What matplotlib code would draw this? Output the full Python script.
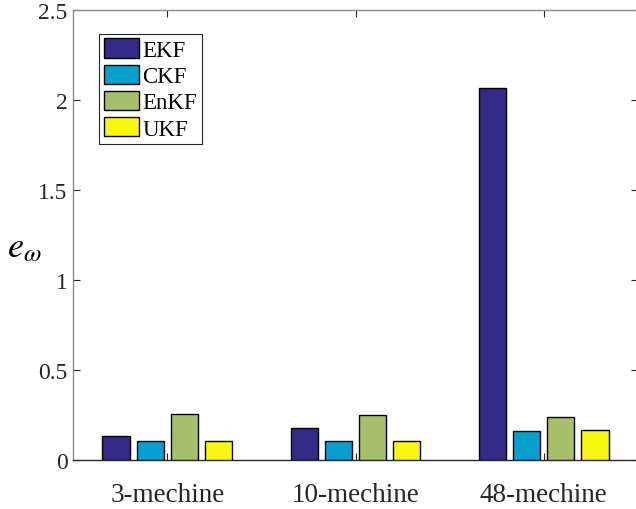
import matplotlib
matplotlib.use("Agg")
import matplotlib.pyplot as plt
import numpy as np

categories = ["3-mechine", "10-mechine", "48-mechine"]
series = ["EKF", "CKF", "EnKF", "UKF"]
EKF = [0.133, 0.180, 2.065]
CKF = [0.106, 0.107, 0.163]
EnKF = [0.254, 0.250, 0.239]
UKF = [0.104, 0.107, 0.167]
colors = ["#352A87", "#05A0D0", "#A6BF6A", "#F8F80D"]
yticks = [0, 0.5, 1, 1.5, 2, 2.5]
ytick_labels = ["0", "0.5", "1", "1.5", "2", "2.5"]

plt.rcParams['font.family'] = ['Liberation Serif', 'DejaVu Serif']
plt.rcParams['mathtext.fontset'] = 'stix'

fig = plt.figure(figsize=(6.36, 5.10), dpi=100)
ax = fig.add_axes([73.3/636, 49/510, (637.7-73.3)/636, (461-11)/510])

x = np.arange(1, len(categories) + 1)
groupwidth = 0.727
pitch = groupwidth / 4
width = pitch * 0.8
data = [EKF, CKF, EnKF, UKF]
for i, (name, vals, c) in enumerate(zip(series, data, colors)):
    offs = (i - 1.5) * pitch
    ax.bar(x + offs, vals, width, color=c, edgecolor='black', linewidth=1.0, label=name, zorder=3)

ax.set_xlim(0.5, 3.5)
ax.set_ylim(0, 2.5)
ax.set_xticks(x)
ax.set_xticklabels(categories, fontsize=19.5)
ax.set_yticks(yticks)
ax.set_yticklabels(ytick_labels, fontsize=17)
ax.tick_params(axis='both', direction='in', length=5, width=0.8, colors='#262626',
               top=True, right=True, labelcolor='#262626')
ax.tick_params(axis='x', pad=16)
ax.tick_params(axis='y', pad=4)
for s in ['left', 'top', 'right']:
    ax.spines[s].set_color('#8a8a8a')
ax.spines['bottom'].set_color('#262626')
for s in ax.spines.values():
    s.set_linewidth(1.0)

ax.set_ylabel(r'$e_{\omega}$', fontsize=26, rotation=0, labelpad=0)
ax.yaxis.set_label_coords(-0.087, 0.435)

leg = ax.legend(loc='upper left', bbox_to_anchor=(0.0455, 0.947), fontsize=16.5,
                frameon=True, fancybox=False, edgecolor='#262626', framealpha=1,
                handlelength=1.55, handleheight=0.92, handletextpad=0.15,
                labelspacing=0.16, borderpad=0.2, borderaxespad=0)
leg.get_frame().set_linewidth(0.8)

fig.savefig("out.png", dpi=100)
